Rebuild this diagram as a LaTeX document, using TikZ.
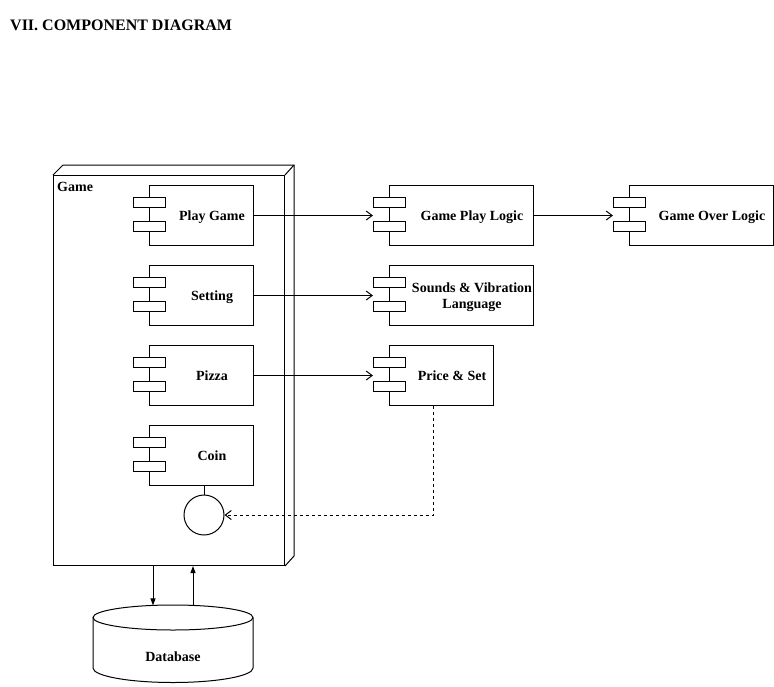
\documentclass[tikz,border=0pt]{standalone}
\usepackage{fontspec}
\setmainfont{Liberation Serif}
\usetikzlibrary{arrows.meta,calc}

\tikzset{
  base/.style={line width=1pt, draw=black},
  compbox/.style={base, rectangle, fill=white, minimum height=60pt, inner sep=0pt, anchor=north west},
  port/.style={base, rectangle, fill=white, minimum width=32pt, minimum height=10pt, inner sep=0pt, anchor=north west},
  lbl/.style={font=\fontsize{14}{16}\selectfont\bfseries, align=center, inner sep=0pt},
  flow/.style={base, -{Straight Barb[length=6pt,width=9pt,line width=1pt]}},
  dbflow/.style={base, -{Triangle[length=7pt,width=5pt]}},
  iface/.style={base, circle, minimum size=40pt, inner sep=0pt},
}

% component: name, left x, top y, width, label, baseline offset of last line
\newcommand\umlcomp[6]{%
  \node[compbox, minimum width=#4] (#1) at (#2,#3) {};
  \node[port] (#1-pa) at ($(#1.north west)+(-16,12)$) {};
  \node[port] (#1-pb) at ($(#1.north west)+(-16,36)$) {};
  \node[lbl, anchor=base] (#1-t) at ($(#1-pa.east |- #1.north)!0.5!(#1.north east)+(2,#6)$) {#5};
}

\begin{document}
\begin{tikzpicture}[x=1pt,y=-1pt]
\useasboundingbox (0,0) rectangle (774,686);

% title
\node[font=\fontsize{16}{18}\selectfont\bfseries, anchor=base west, inner sep=0pt] (title) at (10,30.5) {VII. COMPONENT DIAGRAM};

% the Game container (3D box)
\node[base, rectangle, minimum width=231pt, minimum height=390pt, inner sep=0pt, anchor=north west] (game) at (53,175) {};
\draw[base] (game.north west) -- ++(10,-10) -- ($(game.north east)+(9,-10)$) -- ($(game.south east)+(9,-10)$) -- (game.south east);
\draw[base] (game.north east) -- ++(9,-10);
\node[lbl, anchor=base west] (gamelbl) at ($(game.north west)+(4,16.5)$) {Game};

% components inside Game
\umlcomp{play}{149}{185}{104}{Play Game}{35}
\umlcomp{setting}{149}{265}{104}{Setting}{35}
\umlcomp{pizza}{149}{345}{104}{Pizza}{35}
\umlcomp{coin}{149}{425}{104}{Coin}{35}

% provided interface of Coin
\node[iface] (coinif) at (204,515) {};
\draw[base] (coin.south -| coinif.north) -- (coinif.north);

% outer components
\umlcomp{gpl}{389}{185}{144}{Game Play Logic}{35}
\umlcomp{sounds}{389}{265}{144}{Sounds \& Vibration\\Language}{43}
\umlcomp{price}{389}{345}{104}{Price \& Set}{35}
\umlcomp{gol}{629}{185}{144}{Game Over Logic}{35}

% dependencies
\draw[flow] (play.east) -- (gpl-pa.west |- play.east);
\draw[flow] (gpl.east) -- (gol-pa.west |- gpl.east);
\draw[flow] (setting.east) -- (sounds-pa.west |- setting.east);
\draw[flow] (pizza.east) -- (price-pa.west |- pizza.east);
\draw[flow, dashed, dash pattern=on 3pt off 3pt] ($(price.south)+(-8,0)$) |- (coinif.east);

% database cylinder
\coordinate (dbtop) at (173,617.5);
\coordinate (dbbot) at (173,668);
\draw[base, fill=white] ($(dbtop)+(-80,0)$) -- ($(dbbot)+(-80,0)$) arc[start angle=180, end angle=0, x radius=80, y radius=14.5] -- ($(dbtop)+(80,0)$);
\draw[base, fill=white] (dbtop) ellipse[x radius=80, y radius=12.5];
\node[lbl, anchor=base] (db) at (173,661.5) {Database};

\coordinate (dbin) at (153,605.4);
\coordinate (dbout) at (193,605.4);
\draw[dbflow] (game.south -| dbin) -- (dbin);
\draw[dbflow] (dbout) -- (game.south -| dbout);
\end{tikzpicture}
\end{document}
